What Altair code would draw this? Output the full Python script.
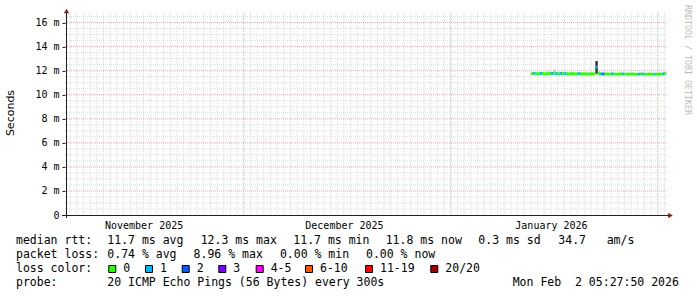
import altair as alt
import pandas as pd

# ---------------- data ----------------
range_start = dict(year=2025, month=11, date=4, hours=5, minutes=27, seconds=50)
range_end = dict(year=2026, month=2, date=2, hours=5, minutes=27, seconds=50)

series_start = "2026-01-13 00:00:00"
series_step = "8h"

median_ms = [11.75, 11.78, 11.76, 11.75, 11.78, 11.77, 11.74, 11.76, 11.78, 11.77,
             11.79, 11.76, 11.75, 11.77, 11.78, 11.76, 11.75, 11.74, 11.76, 11.75,
             11.74, 11.76, 11.75, 11.74, 11.75, 11.73, 11.74, 11.75, 11.74, 12.30,
             11.76, 11.74, 11.73, 11.74, 11.73, 11.72, 11.74, 11.73, 11.72, 11.73,
             11.74, 11.73, 11.72, 11.73, 11.72, 11.73, 11.72, 11.71, 11.72, 11.73,
             11.72, 11.71, 11.72, 11.73, 11.72, 11.71, 11.72, 11.73, 11.72, 11.74, 11.78]

loss_pings = [0, 1, 0, 0, 1, 0, 0, 0, 0, 1,
              0, 1, 0, 1, 0, 1, 0, 0, 0, 0,
              0, 1, 0, 0, 0, 0, 0, 0, 0, 1,
              0, 1, 2, 0, 0, 0, 1, 0, 0, 0,
              0, 1, 0, 0, 0, 0, 0, 0, 1, 0,
              1, 0, 0, 0, 0, 1, 0, 0, 0, 1, 0]

smoke_lo_ms = [11.66, 11.69, 11.68, 11.67, 11.69, 11.68, 11.62, 11.68, 11.70, 11.69,
               11.70, 11.68, 11.67, 11.69, 11.70, 11.68, 11.67, 11.66, 11.68, 11.67,
               11.66, 11.68, 11.67, 11.66, 11.67, 11.65, 11.66, 11.67, 11.66, 11.74,
               11.68, 11.66, 11.65, 11.66, 11.65, 11.64, 11.66, 11.65, 11.64, 11.65,
               11.66, 11.65, 11.64, 11.65, 11.64, 11.65, 11.64, 11.63, 11.64, 11.65,
               11.64, 11.63, 11.64, 11.65, 11.64, 11.63, 11.64, 11.65, 11.64, 11.66, 11.70]

smoke_hi_ms = [11.86, 11.88, 11.85, 11.84, 11.87, 11.86, 11.83, 11.95, 11.87, 11.86,
               12.10, 11.85, 11.84, 11.86, 11.87, 11.85, 11.84, 11.83, 11.85, 11.84,
               11.83, 11.85, 11.84, 11.83, 11.84, 11.82, 11.83, 11.84, 11.83, 12.80,
               11.95, 11.83, 11.82, 11.83, 11.82, 11.81, 11.83, 11.82, 11.81, 11.82,
               11.83, 11.82, 11.81, 11.82, 11.81, 11.82, 11.81, 11.80, 11.81, 11.82,
               11.81, 11.80, 11.81, 11.82, 11.81, 11.80, 11.81, 11.82, 11.81, 11.83, 11.87]

dark_smoke_time = ["2026-01-22 16:00:00"]
dark_smoke_lo_ms = [11.75]
dark_smoke_hi_ms = [12.80]

y_tick_ms = [0, 2, 4, 6, 8, 10, 12, 14, 16]
month_label_days = [(2025, 11, 16), (2025, 12, 16), (2026, 1, 16)]
month_starts = ["2025-12-01 00:00:00", "2026-01-01 00:00:00", "2026-02-01 00:00:00"]

loss_labels = ["0", "1", "2", "3", "4-5", "6-10", "11-19", "20/20"]
loss_upper = [0, 1, 2, 3, 5, 10, 19, 20]
loss_colors = ["#26ff00", "#00b8ff", "#0059ff", "#7e00ff", "#ff00ff", "#ff5500", "#ff0000", "#a10000"]

rtt_avg, rtt_max, rtt_min, rtt_now = 11.7, 12.3, 11.7, 11.8
rtt_sd = 0.3
rtt_amps = 34.7
loss_avg, loss_max, loss_min, loss_now = 0.74, 8.96, 0.00, 0.00
probe_text = "20 ICMP Echo Pings (56 Bytes) every 300s"
stamp_text = "Mon Feb\u00a0\u00a02 05:27:50 2026"

# ---------------- layout (pixels) ----------------
W, H = 601, 202
PAD = {"left": 65, "top": 13, "right": 31, "bottom": 82}
line_y = [228, 242, 256, 270]
line1_x = [-49, 42.3, 135.7, 228.3, 320.7, 413.3, 493.3, 541.7]
line2_x = [-49, 42.3, 128.6, 214.9, 301]
legend_text_x = [58.3, 95, 131.7, 168.3, 205.7, 255, 315, 380.3]
line4_x = [-49, 42.3, 447.7]

# ---------------- tables ----------------
def loss_label(n):
    for lab, up in zip(loss_labels, loss_upper):
        if n <= up:
            return lab
    return loss_labels[-1]

times = pd.date_range(series_start, periods=len(median_ms), freq=series_step)
df = pd.DataFrame({
    "t": times,
    "t2": times + pd.Timedelta(series_step),
    "median": median_ms,
    "lo": smoke_lo_ms,
    "hi": smoke_hi_ms,
    "loss": [loss_label(n) for n in loss_pings],
})
dark_t = pd.to_datetime(dark_smoke_time)
df_dark = pd.DataFrame({"t": dark_t, "t2": dark_t + pd.Timedelta(series_step),
                        "lo": dark_smoke_lo_ms, "hi": dark_smoke_hi_ms})

month_ts = pd.to_datetime(month_starts)
all_days = pd.date_range("2025-11-05", "2026-02-02", freq="D")
df_days = pd.DataFrame({"d": [d for d in all_days if d not in set(month_ts)]})
df_months = pd.DataFrame({"d": month_ts})
df_hminor = pd.DataFrame({"v": [i * 0.5 for i in range(1, 34) if i % 4 != 0]})
df_hmajor = pd.DataFrame({"v": y_tick_ms[1:]})
dummy = pd.DataFrame({"a": [0]})

x_scale = alt.Scale(domain=[alt.DateTime(**range_start), alt.DateTime(**range_end)])
y_scale = alt.Scale(domain=[0, 16.8], nice=False, zero=False)

x_axis = alt.Axis(
    values=[alt.DateTime(year=y, month=m, date=d) for (y, m, d) in month_label_days],
    format="%B %Y", labelFont="DejaVu Sans Mono", labelFontSize=10, labelColor="#000000",
    grid=False, ticks=False, domain=False, labelPadding=5, title=None,
    labelFlush=False, labelOverlap=False, labelBaseline="top")
y_axis = alt.Axis(
    values=y_tick_ms,
    labelExpr="datum.value == 0 ? '0\u00a0\u00a0' : datum.value + ' m'",
    labelFont="DejaVu Sans Mono", labelFontSize=10, labelColor="#000000",
    grid=False, domain=False, ticks=True, tickSize=3, tickColor="#1f1f1f",
    labelPadding=3, title=None)

X = lambda f: alt.X(f, type="temporal", scale=x_scale, axis=x_axis)
Y = lambda f: alt.Y(f, type="quantitative", scale=y_scale, axis=y_axis)

GRID = "#dcdcdc"
MGRID = "#f2a6a6"

vgrid_minor = alt.Chart(df_days).mark_rule(color=GRID, strokeDash=[1, 1], strokeWidth=1).encode(x=X("d"))
hgrid_minor = alt.Chart(df_hminor).mark_rule(color=GRID, strokeDash=[1, 1], strokeWidth=1).encode(y=Y("v"))
vgrid_major = alt.Chart(df_months).mark_rule(color=MGRID, strokeDash=[1, 1], strokeWidth=1).encode(x=X("d"))
hgrid_major = alt.Chart(df_hmajor).mark_rule(color=MGRID, strokeDash=[1, 1], strokeWidth=1).encode(y=Y("v"))

smoke = alt.Chart(df).mark_rect(color="#c4c4c4", clip=True).encode(
    x=X("t"), x2="t2:T", y=Y("lo"), y2="hi:Q")
dark = alt.Chart(df_dark).mark_rect(color="#2a2a2a", clip=True).encode(
    x=X("t"), x2="t2:T", y=Y("lo"), y2="hi:Q")
median = alt.Chart(df).mark_rule(strokeWidth=2.8, clip=True).encode(
    x=X("t"), x2="t2:T", y=Y("median"),
    color=alt.Color("loss:N", scale=alt.Scale(domain=loss_labels, range=loss_colors), legend=None))

x_line = alt.Chart(dummy).mark_rule(color="#1f1f1f", strokeWidth=1).encode(
    x=alt.value(-3), x2=alt.value(W + 3), y=alt.value(H + 0.5))
y_line = alt.Chart(dummy).mark_rule(color="#1f1f1f", strokeWidth=1).encode(
    x=alt.value(1.5), y=alt.value(-2), y2=alt.value(H + 3))
arrow_up = alt.Chart(dummy).mark_point(shape="triangle-up", filled=True, color="#801f1f", size=28, opacity=1).encode(
    x=alt.value(1.5), y=alt.value(-2))
arrow_right = alt.Chart(dummy).mark_point(shape="triangle-right", filled=True, color="#801f1f", size=28, opacity=1).encode(
    x=alt.value(W + 4.5), y=alt.value(H + 0.5))

plot = alt.layer(vgrid_minor, hgrid_minor, vgrid_major, hgrid_major, smoke, dark, median,
                 x_line, y_line, arrow_up, arrow_right)

# ---------------- text block ----------------
line1 = ["median rtt:", f"{rtt_avg:.1f} ms avg", f"{rtt_max:.1f} ms max", f"{rtt_min:.1f} ms min",
         f"{rtt_now:.1f} ms now", f"{rtt_sd:.1f} ms sd", f"{rtt_amps:.1f}", "am/s"]
line2 = ["packet loss:", f"{loss_avg:.2f} % avg", f"{loss_max:.2f} % max", f"{loss_min:.2f} % min",
         f"{loss_now:.2f} % now"]
line4 = ["probe:", probe_text, stamp_text]

rows = []
for txt, x in zip(line1, line1_x):
    rows.append({"x": x, "y": line_y[0], "text": txt})
for txt, x in zip(line2, line2_x):
    rows.append({"x": x, "y": line_y[1], "text": txt})
rows.append({"x": -49, "y": line_y[2], "text": "loss color:"})
for txt, x in zip(loss_labels, legend_text_x):
    rows.append({"x": x, "y": line_y[2], "text": txt})
for txt, x in zip(line4, line4_x):
    rows.append({"x": x, "y": line_y[3], "text": txt})
text_df = pd.DataFrame(rows)

sq_df = pd.DataFrame({"x": [x - 11 for x in legend_text_x], "y": [line_y[2]] * len(loss_labels),
                      "col": loss_colors})

texts = alt.Chart(text_df).mark_text(align="left", baseline="middle", font="DejaVu Sans Mono",
                                     fontSize=11.5, color="#000000").encode(
    x=alt.X("x:Q", scale=None, axis=None), y=alt.Y("y:Q", scale=None, axis=None), text="text:N")
squares = alt.Chart(sq_df).mark_square(size=49, stroke="#000000", strokeWidth=1, opacity=1).encode(
    x=alt.X("x:Q", scale=None, axis=None), y=alt.Y("y:Q", scale=None, axis=None),
    fill=alt.Fill("col:N", scale=None))
seconds = alt.Chart(dummy).mark_text(text="Seconds", angle=270, font="DejaVu Sans", fontSize=11,
                                     color="#000000", align="center", baseline="middle").encode(
    x=alt.value(-54.5), y=alt.value(100))
watermark = alt.Chart(dummy).mark_text(text="RRDTOOL / TOBI OETIKER", angle=90, font="DejaVu Sans Mono",
                                       fontSize=8.3, color="#bcbcbc", align="center", baseline="middle").encode(
    x=alt.value(621.5), y=alt.value(47))

annot = alt.layer(texts, squares, seconds, watermark)

chart = alt.layer(plot, annot).resolve_scale(x="independent", y="independent").properties(
    width=W, height=H, padding=PAD, autosize=alt.AutoSizeParams(type="none"), background="#ffffff"
).configure_view(stroke=None)

chart.save("out.html", embed_options={"renderer": "svg", "actions": False})
